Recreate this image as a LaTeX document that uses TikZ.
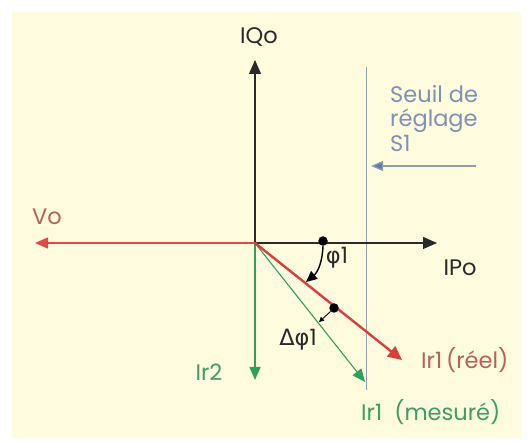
\documentclass[tikz,border=0pt]{standalone}
\usepackage{fontspec}
\setmainfont{Poppins}
\newfontfamily\grk{DejaVu Sans}
\usetikzlibrary{arrows.meta}
\definecolor{cream}{HTML}{FEFBDF}
\definecolor{axisc}{HTML}{2A2A2A}
\definecolor{vred}{HTML}{E04A45}
\definecolor{rred}{HTML}{D9403C}
\definecolor{rtext}{HTML}{B5625A}
\definecolor{ggreen}{HTML}{2FA05A}
\definecolor{gtext}{HTML}{3F9E62}
\definecolor{thr}{HTML}{8E9EAE}
\definecolor{bluet}{HTML}{7D92B4}
\definecolor{bluea}{HTML}{5A7CC0}
\tikzset{
  lbl/.style={inner sep=0pt, font=\fontsize{22.5}{24.5}\selectfont},
  axisline/.style={draw=axisc, line width=1.2pt, -{Triangle[length=14pt,width=12pt]}},
  dotc/.style={circle, fill=black, inner sep=0pt, minimum size=9.5pt},
}
\begin{document}
\begin{tikzpicture}[x=1pt,y=1pt]
\useasboundingbox (0,0) rectangle (528,442);
\fill[white] (0,0) rectangle (528,442);
\fill[cream] (12,4) rectangle (521,430);
% coordinates
\coordinate (O) at (255,199);
\coordinate (iqtip) at (255,382);
\coordinate (iptip) at (437,199);
\coordinate (votip) at (35,199);
\coordinate (thtop) at (366,375);
\coordinate (thbot) at (366,52);
\coordinate (bstart) at (476,276);
\coordinate (btip) at (371,276);
\coordinate (rtip) at (402,82);
\coordinate (gtip) at (365,60);
\coordinate (i2tip) at (255,62);
\coordinate (t1) at (306,160);
\coordinate (t2) at (319,120);
% threshold
\draw[thr, line width=1pt] (thtop) -- (thbot);
\draw[thr, line width=1.2pt, -{Triangle[length=12pt,width=10pt,fill=bluea]}] (bstart) -- (btip);
% axes
\draw[axisline] (O) -- (iqtip);
\draw[axisline] (O) -- (iptip);
% Vo
\draw[vred, line width=1.4pt, -{Triangle[length=13pt,width=11pt]}] (O) -- (votip);
% green vectors
\draw[ggreen, line width=1.2pt, -{Triangle[length=13pt,width=11pt]}] (O) -- (i2tip);
\draw[ggreen, line width=1.1pt, -{Triangle[length=13pt,width=11pt]}] (O) -- (gtip);
% red Ir1
\draw[rred, line width=2.4pt, -{Triangle[length=14pt,width=13pt]}] (O) -- (rtip);
% dots and angle arrows
\node[dotc] (d1) at (323,201) {};
\node[dotc] (d2) at (334,134) {};
\draw[black, line width=1.4pt, -{Triangle[length=11pt,width=10pt]}] (d1.south) to[out=-92,in=40] (t1);
\draw[black, line width=0.9pt, -{Triangle[length=5pt,width=5pt]}] (d2.south west) -- (t2);
% labels
\node[lbl, text=axisc] (lIQ) at (259,405) {IQo};
\node[lbl, text=axisc] (lIP) at (460,174) {IPo};
\node[lbl, text=rtext] (lVo) at (47,225) {Vo};
\node[lbl, text=bluet, align=left, anchor=north west] (lS) at (390,357) {Seuil de\\réglage\\S1};
\node[lbl, text=rtext, anchor=west] (lr) at (421,82) {Ir1\,(réel)};
\node[lbl, text=gtext, anchor=west] (lm) at (361,30) {Ir1\ \ (mesuré)};
\node[lbl, text=gtext] (l2) at (209,70) {Ir2};
\node[lbl, text=axisc] (lphi) at (337,184) {{\grk φ}1};
\node[lbl, text=axisc] (ldphi) at (298,102) {{\grk Δφ}1};
\end{tikzpicture}
\end{document}
